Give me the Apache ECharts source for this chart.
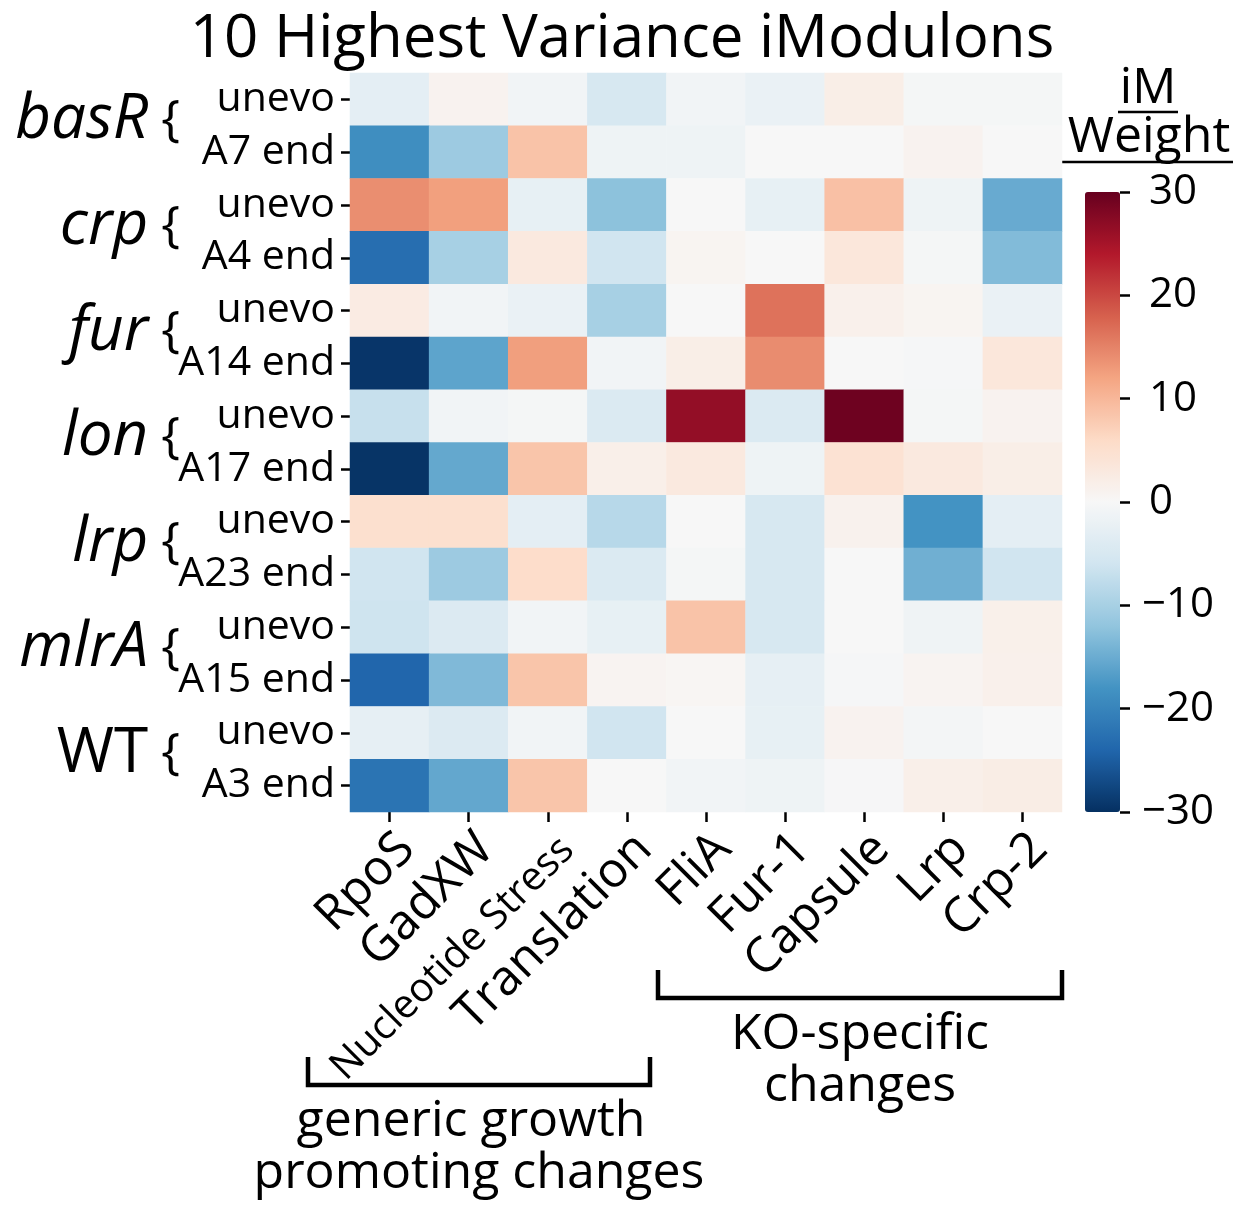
<!DOCTYPE html>
<html>
<head>
<meta charset="utf-8">
<script src="https://cdn.jsdelivr.net/npm/echarts@6/dist/echarts.min.js"></script>
<style>
  html, body { margin: 0; padding: 0; background: #fff; }
  #chart { width: 1244px; height: 1205px; }
</style>
</head>
<body>
<div id="chart"></div>
<script>
// iModulon columns (x axis)
const imodulons = ['RpoS', 'GadXW', 'Nucleotide Stress', 'Translation', 'FliA', 'Fur-1', 'Capsule', 'Lrp', 'Crp-2'];
// knockout strains, each with an unevolved and an evolved endpoint sample
const strains = ['basR', 'crp', 'fur', 'lon', 'lrp', 'mlrA', 'WT'];
const samples = ['unevo', 'A7 end', 'unevo', 'A4 end', 'unevo', 'A14 end', 'unevo', 'A17 end',
                 'unevo', 'A23 end', 'unevo', 'A15 end', 'unevo', 'A3 end'];

// iModulon activity (weight) per sample, in the column order above
const basR_unevo  = [-3,    1,    -1,   -5,    -1,   -2,   2,    -0.5, -0.5];
const basR_A7end  = [-18.7, -11,  8.7,  -1.5,  -1.5, 0,    0,    1,    0];
const crp_unevo   = [14,    12.4, -2.5, -12.4, 0,    -2.5, 9,    -1.5, -15.2];
const crp_A4end   = [-22.9, -10,  3,    -6,    0.7,  0,    3.5,  -0.5, -13.2];
const fur_unevo   = [2.5,   -1,   -2,   -10,   0,    16.4, 1.5,  0.7,  -2];
const fur_A14end  = [-29.4, -16,  12.5, -1,    2,    14.2, 0,    -0.3, 3.5];
const lon_unevo   = [-7,    -1,   -0.5, -4.5,  26.5, -4.5, 29.4, -0.5, 1];
const lon_A17end  = [-29.6, -15.5, 8.5, 1.8,   3,    -1.5, 4.5,  3,    2];
const lrp_unevo   = [5,     5,    -3,   -8.5,  0,    -5,   1.3,  -18,  -3];
const lrp_A23end  = [-6,    -11,  5.5,  -4.5,  -0.5, -5,   0,    -14.6, -6];
const mlrA_unevo  = [-6.2,  -4.3, -1,   -2.5,  8.7,  -5,   0,    -1.3, 1.6];
const mlrA_A15end = [-24,   -13.4, 8.5, 0.8,   0.5,  -2.7, -0.3, 0.8,  1.5];
const WT_unevo    = [-2.7,  -4.2, -1,   -6,    0,    -2.5, 1,    -0.7, 0];
const WT_A3end    = [-22.2, -15.6, 8.5, 0,     -1,   -1.5, -0.2, 1.8,  2.2];

const sampleRows = [basR_unevo, basR_A7end, crp_unevo, crp_A4end, fur_unevo, fur_A14end,
                    lon_unevo, lon_A17end, lrp_unevo, lrp_A23end, mlrA_unevo, mlrA_A15end,
                    WT_unevo, WT_A3end];

// colour bar ticks
const weightTicks = [-30, -20, -10, 0, 10, 20, 30];

// RdBu (reversed) diverging palette
const rdBuR = ['#053061', '#2166ac', '#4393c3', '#92c5de', '#d1e5f0', '#f7f7f7',
               '#fddbc7', '#f4a582', '#d6604d', '#b2182b', '#67001f'];

const cells = [];
sampleRows.forEach((row, r) => row.forEach((v, c) => cells.push([c, r, v])));

const FONT = 'Open Sans';
const G = { left: 350, top: 73, width: 712, height: 739 };
const CB = { left: 1085, top: 192, width: 35, height: 620 };

const chart = echarts.init(document.getElementById('chart'), null, { renderer: 'canvas' });

const option = {
  backgroundColor: '#ffffff',
  animation: false,
  title: {
    text: '10 Highest Variance iModulons',
    left: 'center',
    top: 5,
    textStyle: { fontFamily: FONT, fontSize: 60, fontWeight: 'normal', color: '#000' }
  },
  grid: [
    { left: G.left, top: G.top, width: G.width, height: G.height, containLabel: false, outerBoundsMode: 'none' },
    { left: CB.left, top: CB.top, width: CB.width, height: CB.height, containLabel: false, outerBoundsMode: 'none' }
  ],
  xAxis: [
    {
      type: 'category',
      gridIndex: 0,
      position: 'bottom',
      data: imodulons,
      axisLine: { show: false },
      axisTick: { show: true, alignWithLabel: true, length: 10, lineStyle: { color: '#000', width: 2.5 } },
      axisLabel: {
        interval: 0, rotate: 45, align: 'right', verticalAlign: 'top', margin: 12,
        fontFamily: FONT, fontSize: 49, color: '#000',
        // the long label is set smaller and nudged down
        formatter: (v) => v === 'Nucleotide Stress' ? '{n|' + v + '}' : v,
        rich: { n: { fontFamily: FONT, fontSize: 40, color: '#000', padding: [8, 0, 0, 0] } }
      },
      splitLine: { show: false }
    },
    { type: 'category', gridIndex: 1, show: false, data: ['w'] }
  ],
  yAxis: [
    {
      type: 'category',
      gridIndex: 0,
      position: 'left',
      inverse: true,
      data: samples.map((s, i) => String(i)),
      axisLine: { show: false },
      axisTick: { show: true, alignWithLabel: true, length: 9, lineStyle: { color: '#000', width: 2.5 } },
      axisLabel: {
        interval: 0, margin: 15, fontFamily: FONT, fontSize: 41, color: '#000',
        formatter: (v) => samples[+v]
      },
      splitLine: { show: false }
    },
    {
      type: 'category',
      gridIndex: 0,
      position: 'left',
      offset: 0,
      inverse: true,
      data: strains,
      axisLine: { show: false },
      axisTick: { show: false },
      axisLabel: {
        interval: 0, margin: 170, color: '#000',
        padding: [0, 0, 10, 0],
        formatter: (name) => (name === 'WT' ? '{u|WT}' : '{i|' + name + '}') + '{b| {}',
        rich: {
          i: { fontFamily: FONT, fontStyle: 'italic', fontSize: 62, color: '#000' },
          u: { fontFamily: FONT, fontSize: 62, color: '#000' },
          b: { fontFamily: FONT, fontSize: 50, color: '#000' }
        }
      },
      splitLine: { show: false }
    },
    {
      type: 'value',
      gridIndex: 1,
      position: 'right',
      min: -30, max: 30, interval: 10,
      axisLine: { show: false, onZero: false },
      axisTick: { show: true, length: 10, lineStyle: { color: '#000', width: 2.5 } },
      axisLabel: {
        margin: 22, color: '#000', fontFamily: FONT, fontSize: 42,
        formatter: (v) => v < 0 ? '\u2212' + Math.abs(v) : '{p|' + v + '}',
        rich: { p: { fontFamily: FONT, fontSize: 42, color: '#000', padding: [0, 0, 0, 7] } }
      },
      splitLine: { show: false },
      z: 10
    }
  ],
  visualMap: {
    type: 'continuous',
    seriesIndex: 0,
    min: -30, max: 30,
    orient: 'vertical',
    left: CB.left, top: CB.top,
    itemWidth: CB.width, itemHeight: CB.height,
    calculable: false,
    showLabel: false,
    text: null,
    padding: 0,
    hoverLink: false,
    inRange: { color: rdBuR }
  },
  series: [{
    type: 'heatmap',
    xAxisIndex: 0, yAxisIndex: 0,
    data: cells,
    itemStyle: { borderWidth: 0 },
    emphasis: { disabled: true }
  }],
  graphic: [
    // colour bar heading
    { type: 'text', style: { x: 1148, y: 89, text: 'iM', align: 'center', verticalAlign: 'middle',
        fontFamily: FONT, fontSize: 49, fill: '#000' } },
    { type: 'line', shape: { x1: 1118, y1: 112, x2: 1178, y2: 112 }, style: { stroke: '#000', lineWidth: 2.5 } },
    { type: 'text', style: { x: 1149, y: 138, text: 'Weight', align: 'center', verticalAlign: 'middle',
        fontFamily: FONT, fontSize: 50, fill: '#000' } },
    { type: 'line', shape: { x1: 1062, y1: 162, x2: 1233, y2: 162 }, style: { stroke: '#000', lineWidth: 2.5 } },
    // bracket over the KO-specific iModulons
    { type: 'polyline', shape: { points: [[658, 970], [658, 998], [1062, 998], [1062, 970]] },
      style: { stroke: '#000', lineWidth: 4.5, fill: null } },
    { type: 'text', style: { x: 860, y: 1035, text: 'KO-specific', align: 'center', verticalAlign: 'middle',
        fontFamily: FONT, fontSize: 50, fill: '#000' } },
    { type: 'text', style: { x: 860, y: 1087, text: 'changes', align: 'center', verticalAlign: 'middle',
        fontFamily: FONT, fontSize: 50, fill: '#000' } },
    // bracket over the generic growth iModulons
    { type: 'polyline', shape: { points: [[308, 1057], [308, 1085], [650, 1085], [650, 1057]] },
      style: { stroke: '#000', lineWidth: 4.5, fill: null } },
    { type: 'text', style: { x: 471, y: 1122, text: 'generic growth', align: 'center', verticalAlign: 'middle',
        fontFamily: FONT, fontSize: 50, fill: '#000' } },
    { type: 'text', style: { x: 479, y: 1174, text: 'promoting changes', align: 'center', verticalAlign: 'middle',
        fontFamily: FONT, fontSize: 50, fill: '#000' } }
  ]
};

chart.setOption(option);
</script>
</body>
</html>
